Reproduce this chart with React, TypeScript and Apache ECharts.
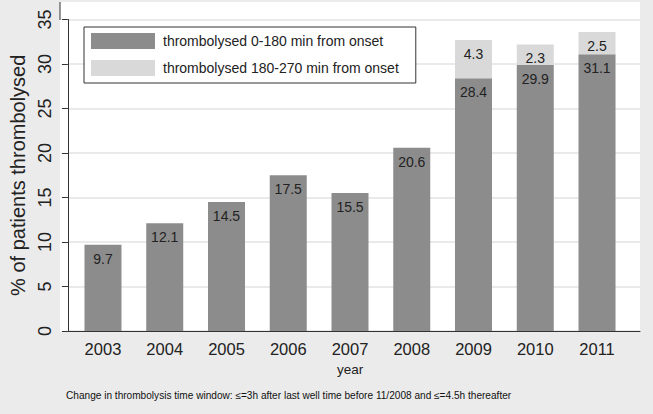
import React, { useEffect, useRef } from "react";
import * as echarts from "echarts";

const years = ["2003", "2004", "2005", "2006", "2007", "2008", "2009", "2010", "2011"];
const early = [9.7, 12.1, 14.5, 17.5, 15.5, 20.6, 28.4, 29.9, 31.1];
const late = [null, null, null, null, null, null, 4.3, 2.3, 2.5];
const seriesNames = ["thrombolysed 0-180 min from onset", "thrombolysed 180-270 min from onset"];
const yTicks = { min: 0, max: 35, interval: 5 };
const yTitle = "% of patients thrombolysed";
const xTitle = "year";
const footnote = "Change in thrombolysis time window: \u2264=3h after last well time before 11/2008 and \u2264=4.5h thereafter";

const FONT = "'Liberation Sans', Arial, sans-serif";

export default function App() {
  const ref = useRef<HTMLDivElement>(null);
  useEffect(() => {
    if (!ref.current) return;
    const chart = echarts.init(ref.current, null, { renderer: "svg" });
    const labelStyle = {
      show: true,
      position: "insideTop",
      distance: 7,
      fontSize: 14,
      color: "#222",
      fontFamily: FONT,
    };
    chart.setOption({
      animation: false,
      backgroundColor: "#ebebeb",
      textStyle: { fontFamily: FONT },
      graphic: [
        {
          type: "rect",
          z: -100,
          silent: true,
          shape: { x: 60, y: 2, width: 580, height: 330 },
          style: { fill: "#ffffff" },
        },
        {
          type: "line",
          z: 10,
          silent: true,
          shape: { x1: 60, y1: 2, x2: 60, y2: 20 },
          style: { stroke: "#333", lineWidth: 1 },
        },
        {
          type: "text",
          left: 66,
          top: 390,
          style: { text: footnote, fontSize: 10.1, fill: "#111", fontFamily: FONT },
        },
      ],
      legend: {
        left: 84,
        top: 27,
        orient: "vertical",
        backgroundColor: "#fff",
        borderColor: "#333",
        borderWidth: 1,
        padding: [6, 17, 7, 7],
        itemGap: 11,
        itemWidth: 64,
        itemHeight: 16,
        icon: "rect",
        textStyle: { fontSize: 14, color: "#222", fontFamily: FONT, padding: [0, 0, 0, 3] },
        data: seriesNames,
      },
      grid: [
        { left: 60, right: 13, top: 19.5, bottom: 83 },
        { left: 72.1, right: 25.1, top: 19.5, bottom: 83 },
      ],
      xAxis: [
        {
          type: "value",
          gridIndex: 0,
          min: 0,
          max: 1,
          axisLine: { show: true, lineStyle: { color: "#333", width: 1 } },
          axisTick: { show: false },
          axisLabel: { show: false },
          splitLine: { show: false },
        },
        {
          type: "category",
          gridIndex: 1,
          data: years,
          axisLine: { show: false },
          axisTick: { show: false },
          axisLabel: { fontSize: 16.5, color: "#222", margin: 9, fontFamily: FONT },
          name: xTitle,
          nameLocation: "middle",
          nameGap: 31,
          nameTextStyle: { fontSize: 13.5, color: "#222", fontFamily: FONT },
        },
      ],
      yAxis: [
        {
          type: "value",
          gridIndex: 0,
          min: yTicks.min,
          max: yTicks.max,
          interval: yTicks.interval,
          axisLine: { show: true, lineStyle: { color: "#333", width: 1 } },
          axisTick: { show: true, length: 6, lineStyle: { color: "#333" } },
          axisLabel: { rotate: 90, fontSize: 18, color: "#222", margin: 14, fontFamily: FONT },
          splitLine: { show: true, lineStyle: { color: "#e3e3e3", width: 1.5 } },
          name: yTitle,
          nameLocation: "middle",
          nameGap: 39,
          nameTextStyle: { fontSize: 20, color: "#222", fontFamily: FONT },
        },
        {
          type: "value",
          gridIndex: 1,
          min: yTicks.min,
          max: yTicks.max,
          interval: yTicks.interval,
          show: false,
        },
      ],
      series: [
        {
          name: seriesNames[0],
          type: "bar",
          xAxisIndex: 1,
          yAxisIndex: 1,
          stack: "total",
          barWidth: 37,
          data: early,
          itemStyle: { color: "#8c8c8c" },
          label: labelStyle,
        },
        {
          name: seriesNames[1],
          type: "bar",
          xAxisIndex: 1,
          yAxisIndex: 1,
          stack: "total",
          barWidth: 37,
          data: late,
          itemStyle: { color: "#d9d9d9" },
          label: labelStyle,
        },
      ],
    });
    return () => chart.dispose();
  }, []);
  return (
    <div
      ref={ref}
      style={{ position: "fixed", left: 0, top: 0, width: 653, height: 414 }}
    />
  );
}
